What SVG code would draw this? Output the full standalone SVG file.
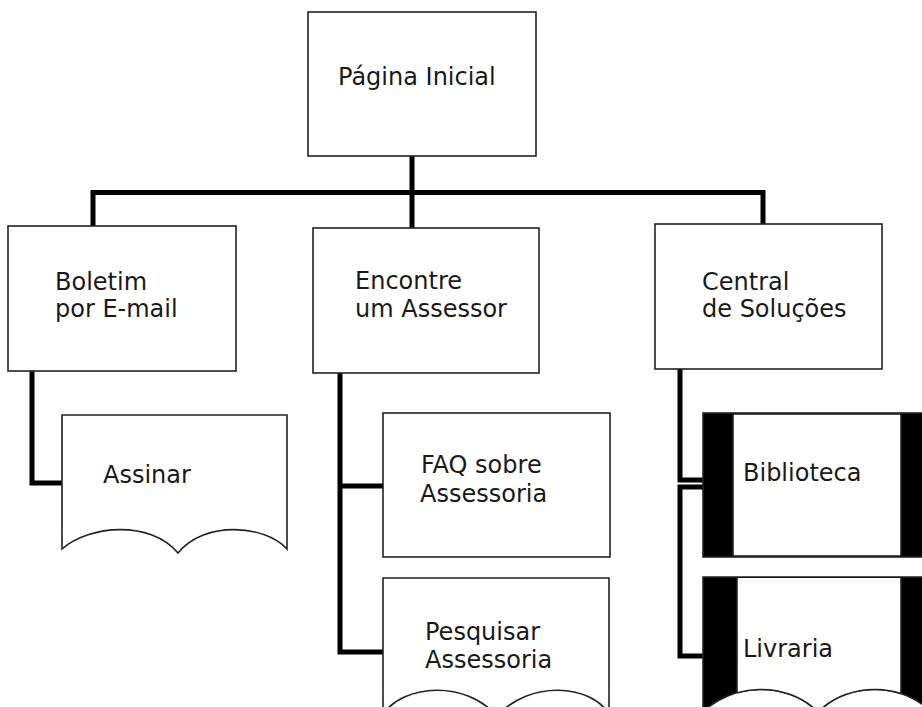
<svg xmlns="http://www.w3.org/2000/svg" width="922" height="707" viewBox="0 0 922 707">
<style>
.box{fill:#fff;stroke:#222;stroke-width:1.6}
.wave{fill:none;stroke:#222;stroke-width:1.6}
.conn{fill:none;stroke:#000;stroke-width:5;stroke-linejoin:miter;stroke-linecap:butt}
text{font-family:"DejaVu Sans","Verdana",sans-serif;font-size:24px;fill:#1a1a1a}
</style>
<defs>
<clipPath id="livclip"><path d="M703,577 H931 V712 C905,684 850,680 818,712 C786,680 731,684 703,712 Z"/></clipPath>
<clipPath id="livinner"><rect x="737" y="560" width="164" height="160"/></clipPath>
</defs>
<rect width="922" height="707" fill="#fff"/>
<g id="connectors">
<path class="conn" d="M412,156 V228"/>
<path class="conn" d="M93,226 V192.5 H763 V224"/>
<path class="conn" d="M32,371 V483 H62"/>
<path class="conn" d="M340,373 V652 H383"/>
<path class="conn" d="M340,486 H383"/>
<path class="conn" d="M680,369 V480 H703"/>
<path class="conn" d="M703,487 H680 V656 H705"/>
</g>
<g id="pagina-inicial">
<rect class="box" x="308" y="12" width="228" height="144"/>
<text x="338" y="85">Página Inicial</text>
</g>
<g id="boletim">
<rect class="box" x="8" y="226" width="228" height="145"/>
<text x="55" y="290">Boletim</text>
<text x="55" y="317">por E-mail</text>
</g>
<g id="encontre">
<rect class="box" x="313" y="228" width="226" height="145"/>
<text x="355" y="289">Encontre</text>
<text x="355" y="317">um Assessor</text>
</g>
<g id="central">
<rect class="box" x="655" y="224" width="227" height="145"/>
<text x="702" y="290">Central</text>
<text x="702" y="317">de Soluções</text>
</g>
<g id="assinar">
<path class="box" d="M62,549 V415 H287 V549 C265,525 205,520 178,553 C150,520 90,525 62,549 Z"/>
<text x="103" y="483">Assinar</text>
</g>
<g id="faq">
<rect class="box" x="383" y="413" width="227" height="144"/>
<text x="421" y="473">FAQ sobre</text>
<text x="420" y="502">Assessoria</text>
</g>
<g id="pesquisar">
<path class="box" d="M383,714 V578 H609 V714 C590,684 530,680 497,716 C465,680 405,684 383,714 Z"/>
<text x="425" y="640">Pesquisar</text>
<text x="425" y="668">Assessoria</text>
</g>
<g id="biblioteca">
<rect x="703" y="413" width="228" height="144" fill="#000" stroke="#222" stroke-width="1.6"/>
<rect class="box" x="733" y="414" width="168" height="142"/>
<text x="743" y="481">Biblioteca</text>
</g>
<g id="livraria">
<path d="M703,577 H931 V712 C905,684 850,680 818,712 C786,680 731,684 703,712 Z" fill="#000" stroke="#222" stroke-width="1.6"/>
<rect x="737" y="578" width="164" height="140" fill="#fff" clip-path="url(#livclip)"/>
<path d="M737,578 V700 M901,578 V700" fill="none" stroke="#222" stroke-width="1.6" clip-path="url(#livclip)"/>
<path class="wave" d="M931,712 C905,684 850,680 818,712 C786,680 731,684 703,712" clip-path="url(#livinner)"/>
<text x="743" y="657">Livraria</text>
</g>
</svg>
